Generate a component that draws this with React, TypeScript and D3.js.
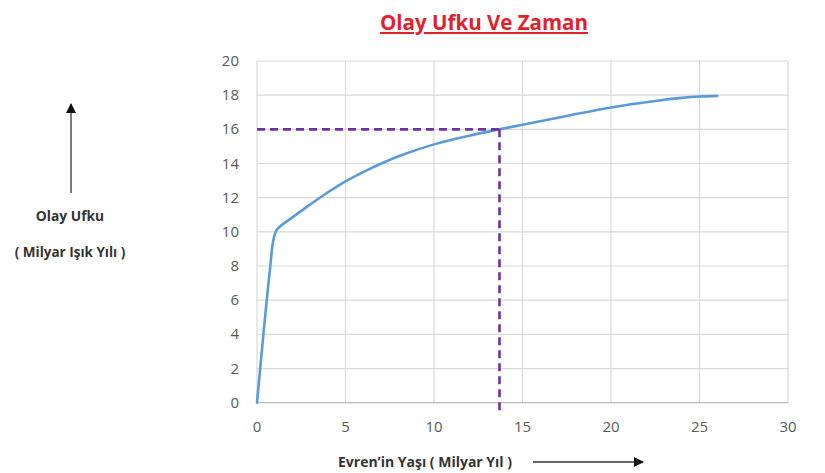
import React from "react";
import * as d3 from "d3";

const ages = [0, 0.18, 0.36, 0.55, 0.75, 0.92, 1.1, 1.4, 2, 2.8, 3.7, 5, 6, 8, 10, 12, 13.7, 15, 17.5, 20, 22.5, 24, 25, 26];
const horizons = [0, 2, 4, 6, 8, 9.5, 10.1, 10.4, 10.85, 11.45, 12.1, 12.95, 13.5, 14.42, 15.12, 15.63, 16.0, 16.27, 16.78, 17.28, 17.66, 17.84, 17.92, 17.96];
const xTicks = [0, 5, 10, 15, 20, 25, 30];
const yTicks = [0, 2, 4, 6, 8, 10, 12, 14, 16, 18, 20];
const markAge = [13.7];
const markHorizon = [16];

const W = 825, H = 473;
const left = 257, right = 788, top = 61, bottom = 402.7;

export default function App() {
  const x = d3.scaleLinear().domain([0, 30]).range([left, right]);
  const y = d3.scaleLinear().domain([0, 20]).range([bottom, top]);
  const pts = ages.map((a, i) => [a, horizons[i]] as [number, number]);
  const line = d3.line<[number, number]>().x(d => x(d[0])).y(d => y(d[1])).curve(d3.curveCatmullRom.alpha(0.5));
  const mx = x(markAge[0]), my = y(markHorizon[0]);
  const font = "'Open Sans', sans-serif";
  return (
    <div style={{ position: "absolute", left: 0, top: 0 }}>
      <svg width={W} height={H} style={{ display: "block", background: "#fff" }}>
        <defs>
          <marker id="ah" viewBox="0 0 10 10" refX="9" refY="5" markerWidth="8" markerHeight="8" orient="auto">
            <path d="M0,0 L10,5 L0,10 z" fill="#111" />
          </marker>
        </defs>
        <text x={484} y={30} textAnchor="middle" fill="#e5202b" fontFamily={font} fontWeight="bold" fontSize={20.5} textDecoration="underline">Olay Ufku Ve Zaman</text>
        {yTicks.map(t => (
          <line key={"gy" + t} x1={left} x2={right} y1={y(t)} y2={y(t)} stroke="#d9d9d9" strokeWidth={1.2} />
        ))}
        {xTicks.map(t => (
          <line key={"gx" + t} x1={x(t)} x2={x(t)} y1={top} y2={bottom} stroke="#d9d9d9" strokeWidth={1.2} />
        ))}
        <line x1={left} x2={right} y1={bottom} y2={bottom} stroke="#bfbfbf" strokeWidth={1.3} />
        {yTicks.map(t => (
          <text key={"ty" + t} x={239} y={y(t) + 5} textAnchor="end" fill="#595959" fontFamily={font} fontSize={15}>{t}</text>
        ))}
        {xTicks.map(t => (
          <text key={"tx" + t} x={x(t)} y={432} textAnchor="middle" fill="#595959" fontFamily={font} fontSize={15}>{t}</text>
        ))}
        <path d={line(pts) || ""} fill="none" stroke="#5b9bd5" strokeWidth={2.6} strokeLinecap="round" />
        <line x1={left} x2={mx} y1={my} y2={my} stroke="#7030a0" strokeWidth={2.6} strokeDasharray="8 5" />
        <line x1={mx} x2={mx} y1={my} y2={412} stroke="#7030a0" strokeWidth={2.6} strokeDasharray="8 5" />
        <line x1={71} x2={71} y1={193} y2={104} stroke="#333" strokeWidth={1.3} markerEnd="url(#ah)" />
        <text x={70} y={221} textAnchor="middle" fill="#333" fontFamily={font} fontWeight="bold" fontSize={13.8}>Olay Ufku</text>
        <text x={70} y={257} textAnchor="middle" fill="#333" fontFamily={font} fontWeight="bold" fontSize={13.5}>( Milyar Işık Yılı )</text>
        <text x={425} y={467} textAnchor="middle" fill="#333" fontFamily={font} fontWeight="bold" fontSize={14}>Evren’in Yaşı ( Milyar Yıl )</text>
        <line x1={533} x2={643} y1={462} y2={462} stroke="#333" strokeWidth={1.3} markerEnd="url(#ah)" />
      </svg>
    </div>
  );
}
